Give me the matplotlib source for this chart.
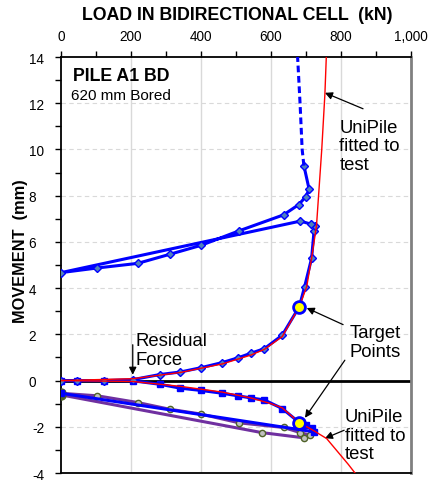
import matplotlib
matplotlib.use("Agg")
import matplotlib.pyplot as plt
from matplotlib.ticker import MultipleLocator, FuncFormatter

plt.rcParams['font.family'] = ['Liberation Sans', 'DejaVu Sans']

# Upward (pile head / upper part) movement: load, movement
up_load = [0, 45, 124, 205, 282, 341, 401, 461, 505, 542, 581, 632, 681, 696, 716, 723, 726, 714, 684,
           0, 103, 219, 310, 400, 509, 636, 679, 699, 709, 694]
up_mov = [0, 0, 0, 0.04, 0.26, 0.37, 0.56, 0.78, 0.98, 1.18, 1.38, 1.96, 3.20, 4.06, 5.29, 6.48, 6.67, 6.77, 6.90,
          4.67, 4.87, 5.07, 5.46, 5.85, 6.48, 7.17, 7.61, 7.95, 8.27, 9.30]
# Dashed extrapolation
dash_load = [694, 689, 683, 676]
dash_mov = [9.30, 10.0, 12.0, 14.0]

# Downward movement: loading then unloading (blue)
dn_load = [0, 45, 124, 205, 282, 341, 401, 461, 505, 542, 581, 632, 681, 700, 716, 724, 0]
dn_mov = [0, 0, 0, -0.01, -0.16, -0.33, -0.43, -0.55, -0.66, -0.75, -0.84, -1.21, -1.82, -1.92, -2.05, -2.22, -0.55]
# Downward reload / unload (purple)
rl_load = [0, 104, 219, 310, 400, 509, 636, 683, 711, 695, 573, 0]
rl_mov = [-0.55, -0.66, -0.95, -1.24, -1.45, -1.83, -2.03, -2.25, -2.36, -2.48, -2.25, -0.62]

# UniPile fitted curves (red)
fit_up_load = [0, 205, 341, 461, 542, 581, 632, 681, 702, 716, 730, 745, 754, 758]
fit_up_mov = [0, 0.08, 0.35, 0.72, 1.10, 1.35, 1.90, 3.20, 4.06, 5.30, 6.70, 10.0, 12.4, 14.0]
fit_dn_load = [0, 205, 341, 461, 542, 600, 632, 681, 720, 759, 790, 821, 840]
fit_dn_mov = [0, -0.04, -0.25, -0.50, -0.75, -1.00, -1.18, -1.82, -2.15, -2.51, -3.07, -3.63, -4.0]

# Target points
tgt_load = [681, 681]
tgt_mov = [3.20, -1.82]

x_ticks = [0, 200, 400, 600, 800, 1000]
y_ticks = [-4, -2, 0, 2, 4, 6, 8, 10, 12, 14]

fig = plt.figure(figsize=(4.30, 4.81), dpi=100)
ax = fig.add_axes([61/430, 1-474/481, 350/430, 416/481])

ax.set_xlim(0, 1000)
ax.set_ylim(-4, 14)

# grid
for xv in [200, 400, 600, 800]:
    ax.axvline(xv, color='#D9D9D9', lw=1.0, zorder=0)
for yv in [-2, 2, 4, 6, 8, 10, 12]:
    ax.axhline(yv, color='#D9D9D9', lw=0.8, ls=(0, (4, 3)), zorder=0)
ax.axhline(0, color='black', lw=2.0, zorder=1)

# red fitted curves
ax.plot(fit_up_load, fit_up_mov, color='#FF0000', lw=1.0, zorder=4)
ax.plot(fit_dn_load, fit_dn_mov, color='#FF0000', lw=1.0, zorder=4)

# purple reload
ax.plot(rl_load, rl_mov, color='#7030A0', lw=2.2, marker='o', ms=4.5,
        mfc='#C0C0C0', mec='#4F6228', mew=1.0, zorder=2)
ax.plot([0, 0], [-0.55, -0.62], ls='none', marker='o', ms=6.5, mfc='#4F6228', mec='#4F6228', zorder=3)

# blue downward
ax.plot(dn_load, dn_mov, color='#0000FF', lw=2.2, marker='s', ms=4.5,
        mfc='#0000FF', mec='#0000FF', zorder=3)

# blue upward
ax.plot(up_load, up_mov, color='#0000FF', lw=2.2, marker='D', ms=3.8,
        mfc='#4F81BD', mec='#0000FF', mew=1.0, zorder=3)
ax.plot(dash_load, dash_mov, color='#0000FF', lw=2.2, ls=(0, (2.2, 1.2)), zorder=3)

# target points
ax.plot(tgt_load, tgt_mov, ls='none', marker='o', ms=8.5, mfc='#FFFF00', mec='#0000FF', mew=2.0, zorder=5)

# axes styling
ax.xaxis.tick_top()
ax.xaxis.set_label_position('top')
ax.set_xticks(x_ticks)
ax.xaxis.set_minor_locator(MultipleLocator(100))
ax.xaxis.set_major_formatter(FuncFormatter(lambda v, p: f"{int(v):,}"))
ax.set_yticks(y_ticks)
ax.set_yticklabels([f"{v}" if v < 0 or v >= 10 else f"{v}  " for v in y_ticks])
ax.yaxis.set_minor_locator(MultipleLocator(1))
ax.tick_params(axis='x', which='both', direction='out', length=4, width=1.0, labelsize=9.8, pad=6, top=True, bottom=False)
ax.tick_params(axis='y', which='both', direction='out', length=4, width=1.0, labelsize=9.8, pad=8)
for s in ['left', 'top', 'bottom']:
    ax.spines[s].set_linewidth(1.3)
    ax.spines[s].set_color('black')
ax.spines['right'].set_linewidth(2.0)
ax.spines['right'].set_color('#808080')

fig.text(237/430, 1-15/481, 'LOAD IN BIDIRECTIONAL CELL  (kN)', ha='center', va='center',
         fontsize=12.8, fontweight='bold')
ax.set_ylabel('MOVEMENT  (mm)', fontsize=11.8, fontweight='bold')
ax.yaxis.set_label_coords(-0.095, (474 - 251) / 416)

ax.text(35, 13.2, 'PILE A1 BD', fontsize=12.8, fontweight='bold', ha='left', va='center')
ax.text(29, 12.36, '620 mm Bored', fontsize=11, ha='left', va='center')

ann_fs = 13.3
ap = dict(arrowstyle='-|>', color='black', lw=0.9, mutation_scale=11, shrinkA=0, shrinkB=0)
ax.annotate('', xy=(754, 12.45), xytext=(863, 11.76), arrowprops=ap)
ax.text(795, 10.15, 'UniPile\nfitted to\ntest', fontsize=ann_fs, ha='left', va='center', linespacing=1.12)

ax.annotate('', xy=(205, 0.25), xytext=(205, 1.55), arrowprops=ap)
ax.text(214, 1.33, 'Residual\nForce', fontsize=ann_fs, ha='left', va='center', linespacing=1.12)

ax.text(897, 1.67, 'Target\nPoints', fontsize=ann_fs, ha='center', va='center', linespacing=1.12)
ax.annotate('', xy=(702, 3.14), xytext=(806, 2.42), arrowprops=ap)
ax.annotate('', xy=(697, -1.61), xytext=(811, 0.88), arrowprops=ap)

ax.annotate('', xy=(754, -2.5), xytext=(809, -2.15), arrowprops=ap)
ax.text(811, -2.36, 'UniPile\nfitted to\ntest', fontsize=ann_fs, ha='left', va='center', linespacing=1.12)

fig.savefig('out.png', dpi=100)
